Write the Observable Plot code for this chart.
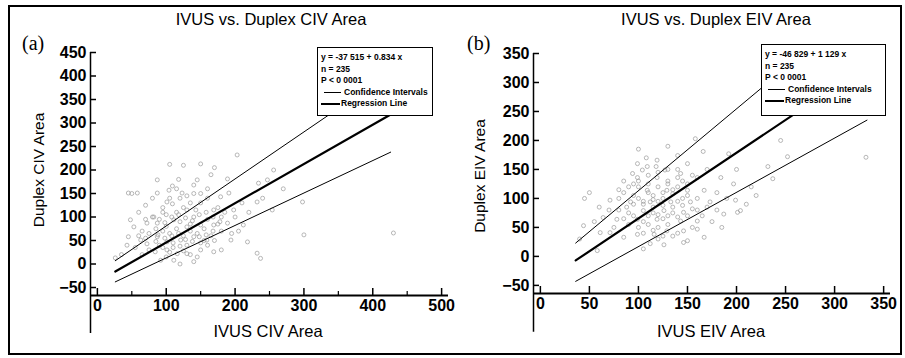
<!DOCTYPE html>
<html>
<head>
<meta charset="utf-8">
<script src="https://cdn.jsdelivr.net/npm/d3@7"></script>
<script src="https://cdn.jsdelivr.net/npm/@observablehq/plot@0.6"></script>
<style>
  html, body { margin: 0; padding: 0; background: #fff; }
  #wrap { position: relative; width: 905px; height: 358px; overflow: hidden; font-family: "Liberation Sans", Arial, sans-serif; color: #000; }
  .abs { position: absolute; white-space: nowrap; }
  .title { font-size: 16.5px; transform: translate(-50%, -50%); }
  .tag { font-family: "Liberation Serif", "Times New Roman", serif; font-size: 20px; transform: translateY(-50%); }
  .xlab { font-size: 16.5px; transform: translate(-50%, -50%); }
  .ylab { font-size: 15.5px; transform: translate(-50%, -50%) rotate(-90deg); }
  .legend { border: 1.5px solid #000; background: #fff; box-sizing: border-box; font-size: 8.5px; font-weight: bold; padding: 4px 0 0 3px; line-height: 11.6px; }
  .legend .row { display: flex; align-items: center; }
  .legend .sw { display: inline-block; width: 17px; margin-right: 3px; border-top: 1px solid #000; }
  .legend .sw.thick { border-top-width: 2px; width: 19px; margin-right: 1px; }
  #frame { position: absolute; left: 8px; top: 5px; width: 894px; height: 350px; border: 2px solid #000; box-sizing: border-box; }
  svg { position: absolute; top: 0; }
  svg text { font-weight: bold !important; font-family: "Liberation Sans", Arial, sans-serif !important; }
</style>
</head>
<body>
<div id="wrap"><div id="frame"></div></div>
<script>
// ---------- Data: panel (a) IVUS vs Duplex CIV Area ----------
const civTitle = "IVUS vs. Duplex CIV Area";
const civXLabel = "IVUS CIV Area";
const civYLabel = "Duplex CIV Area";
const civLegendLines = ["y = -37 515  +  0.834  x", "n = 235", "P < 0 0001"];
const civX = [26,45,58,87,104,123,140,140,87,109,145,189,191,179,101,109,130,143,169,198,232,234,247,254,298,48,53,72,82,87,111,130,150,169,189,212,45,63,72,87,101,121,140,159,194,218,43,84,101,116,92,111,130,150,169,237,232,300,430,105,125,150,203,256,
  95,105,115,125,135,145,155,165,120,140,160,100,115,75,65,90,110,130,150,170,180,200,210,175,160,120,95,60,70,100,85,135,125,150,180,195,205,220,240,270,65,75,55,35,118,160,165,170,50,80,100,140,120,160,180,
  90,98,108,118,128,138,148,158,168,178,88,98,108,118,128,138,148,158,168,110,120,85,95,105,125,135,145,155,175,185,80,70,60,70,105,130,150,115,135,95];
const civY = [13,151,151,151,157,151,168,150,179,166,179,181,151,143,132,128,115,115,115,115,132,172,179,115,132,94,79,87,100,87,94,79,83,83,87,83,58,51,43,58,47,51,58,51,51,47,40,26,30,22,8,8,22,30,26,12,23,62,66,212,210,213,232,200,
  70,65,75,60,70,65,75,60,90,100,95,105,110,65,70,40,35,40,45,50,70,100,130,120,140,140,120,110,125,80,75,85,120,130,100,65,70,110,140,160,20,30,35,20,180,160,190,205,150,140,15,5,0,40,30,
  95,88,100,105,98,92,105,110,100,90,62,55,60,65,52,48,58,62,70,45,38,48,35,25,28,20,15,50,85,110,100,95,60,55,140,145,150,160,130,110];
const civRegX = [26, 426],  civRegY = [-16, 318];
const civUpX  = [26, 426],  civUpY  = [7, 407];
const civLoX  = [26, 426],  civLoY  = [-38, 238];
const civXTicks = [0, 100, 200, 300, 400, 500];
const civXMinor = [50, 150, 250, 350, 450];
const civYTicks = [-50, 0, 50, 100, 150, 200, 250, 300, 350, 400, 450];

// ---------- Data: panel (b) IVUS vs Duplex EIV Area ----------
const eivTitle = "IVUS vs. Duplex EIV Area";
const eivXLabel = "IVUS EIV Area";
const eivYLabel = "Duplex EIV Area";
const eivLegendLines = ["y = -46 829  +  1 129  x", "n = 235", "P < 0 0001"];
const eivX = [158,140,119,99,109,192,166,245,252,332,232,104,127,143,94,99,119,140,160,184,197,237,109,129,150,167,71,92,112,133,153,173,201,187,105,126,146,64,78,99,119,143,160,44,61,71,85,99,116,129,146,160,112,126,150,167,58,105,146,204,199,50,45,
  100,110,120,130,140,150,115,125,135,145,95,85,105,115,125,135,145,155,90,80,110,120,130,140,100,110,120,130,90,75,120,135,180,190,210,175,185,220,95,85,80,60,55,40,100,130,150,170,200,215,160,
  95,105,115,125,135,145,155,100,110,120,130,90,80,70,85,95,105,115,125,135,150,160,170,180,105,115,125,140,155,165,100,110,120,140,150,88,130,140,118,108];
const eivY = [203,174,166,160,155,177,181,200,172,171,155,149,149,143,143,136,136,136,136,136,125,134,114,114,114,114,97,94,94,94,94,94,76,73,79,79,76,67,64,64,64,61,61,53,41,41,33,38,38,44,44,47,22,20,27,33,10,13,24,79,97,110,100,
  120,125,120,125,120,125,105,100,108,100,105,110,90,85,88,85,88,82,75,80,70,72,70,68,50,55,50,55,55,50,30,35,110,100,90,60,50,105,125,130,115,85,60,30,185,190,160,150,150,120,100,
  90,95,98,110,115,130,140,130,140,145,150,120,100,80,65,70,60,75,65,75,70,80,85,80,40,45,35,40,50,70,100,110,95,95,105,85,130,150,155,170];
const eivRegX = [36, 330], eivRegY = [-7, 326];
const eivUpX  = [36, 240], eivUpY  = [23, 311];
const eivLoX  = [36, 333], eivLoY  = [-43, 235];
const eivXTicks = [0, 50, 100, 150, 200, 250, 300, 350];
const eivXMinor = [];
const eivYTicks = [-50, 0, 50, 100, 150, 200, 250, 300, 350];

function pts(xs, ys) { return xs.map((x, i) => ({x, y: ys[i]})); }

function panel(cfg) {
  const {width, height, mL, mR, mT, mB, xDomain, yDomain, yAxisBottom, points, reg, up, lo, xTicks, xMinor, yTicks} = cfg;
  const pxX = (width - mL - mR) / (xDomain[1] - xDomain[0]);
  const pxY = (height - mT - mB) / (yDomain[1] - yDomain[0]);
  const x0 = xDomain[0], y0 = yDomain[0];
  return Plot.plot({
    width, height,
    marginLeft: mL, marginRight: mR, marginTop: mT, marginBottom: mB,
    x: {domain: xDomain},
    y: {domain: yDomain},
    style: {fontFamily: "'Liberation Sans', Arial, sans-serif", background: "transparent", overflow: "visible"},
    marks: [
      Plot.dot(points, {x: "x", y: "y", r: 2, stroke: "#9a9a9a", strokeWidth: 0.7, fill: "none"}),
      Plot.line(up, {x: "x", y: "y", stroke: "#000", strokeWidth: 1}),
      Plot.line(lo, {x: "x", y: "y", stroke: "#000", strokeWidth: 1}),
      Plot.line(reg, {x: "x", y: "y", stroke: "#000", strokeWidth: 2.2}),
      // axis lines
      Plot.ruleX([x0], {y1: yTicks[yTicks.length - 1], y2: yAxisBottom, stroke: "#000", strokeWidth: 1.5}),
      Plot.ruleY([y0], {x1: x0, x2: xDomain[1], stroke: "#000", strokeWidth: 2}),
      // inward ticks
      Plot.ruleY(yTicks, {x1: x0, x2: x0 + 6 / pxX, stroke: "#000", strokeWidth: 1.5}),
      Plot.ruleX(xTicks, {y1: y0, y2: y0 + 7 / pxY, stroke: "#000", strokeWidth: 1.5}),
      Plot.ruleX(xMinor, {y1: y0, y2: y0 + 4 / pxY, stroke: "#000", strokeWidth: 1.2}),
      Plot.axisY({ticks: yTicks, tickSize: 0, tickPadding: 4, label: null, fontSize: 16, fontWeight: "bold", anchor: "left"}),
      Plot.axisX({ticks: xTicks, tickSize: 0, tickPadding: 4, label: null, fontSize: 16, fontWeight: "bold", anchor: "bottom"})
    ]
  });
}

const wrap = document.getElementById("wrap");

const svgA = panel({
  width: 452, height: 358, mL: 90, mR: 4, mT: 52, mB: 63,
  xDomain: [-10, 510], yDomain: [-67, 450], yAxisBottom: -148,
  points: pts(civX, civY), reg: pts(civRegX, civRegY), up: pts(civUpX, civUpY), lo: pts(civLoX, civLoY),
  xTicks: civXTicks, xMinor: civXMinor, yTicks: civYTicks
});
svgA.style.left = "0px";
wrap.appendChild(svgA);

const svgB = panel({
  width: 453, height: 358, mL: 81, mR: 15, mT: 53, mB: 65,
  xDomain: [-7, 357], yDomain: [-64, 350], yAxisBottom: -131,
  points: pts(eivX, eivY), reg: pts(eivRegX, eivRegY), up: pts(eivUpX, eivUpY), lo: pts(eivLoX, eivLoY),
  xTicks: eivXTicks, xMinor: eivXMinor, yTicks: eivYTicks
});
svgB.style.left = "452px";
wrap.appendChild(svgB);

function addText(cls, text, left, top) {
  const d = document.createElement("div");
  d.className = "abs " + cls;
  d.textContent = text;
  d.style.left = left + "px";
  d.style.top = top + "px";
  wrap.appendChild(d);
  return d;
}
function addLegend(lines, left, top, w, h) {
  const d = document.createElement("div");
  d.className = "abs legend";
  Object.assign(d.style, {left: left + "px", top: top + "px", width: w + "px", height: h + "px"});
  for (const l of lines) {
    const r = document.createElement("div"); r.className = "row"; r.textContent = l; d.appendChild(r);
  }
  const ci = document.createElement("div"); ci.className = "row";
  ci.innerHTML = '<span class="sw" style="margin-left:3px"></span>Confidence Intervals';
  const rl = document.createElement("div"); rl.className = "row";
  rl.innerHTML = '<span class="sw thick"></span>Regression Line';
  d.appendChild(ci); d.appendChild(rl);
  wrap.appendChild(d);
}

addText("title", civTitle, 271, 19);
addText("title", eivTitle, 716, 19);
addText("tag", "(a)", 22, 43);
addText("tag", "(b)", 467, 43);
addText("ylab", civYLabel, 39, 170);
addText("ylab", eivYLabel, 480, 176);
addText("xlab", civXLabel, 268, 331);
addText("xlab", eivXLabel, 711, 331);
addLegend(civLegendLines, 317, 47, 116, 69);
addLegend(eivLegendLines, 761, 44, 125, 72);
</script>
</body>
</html>
